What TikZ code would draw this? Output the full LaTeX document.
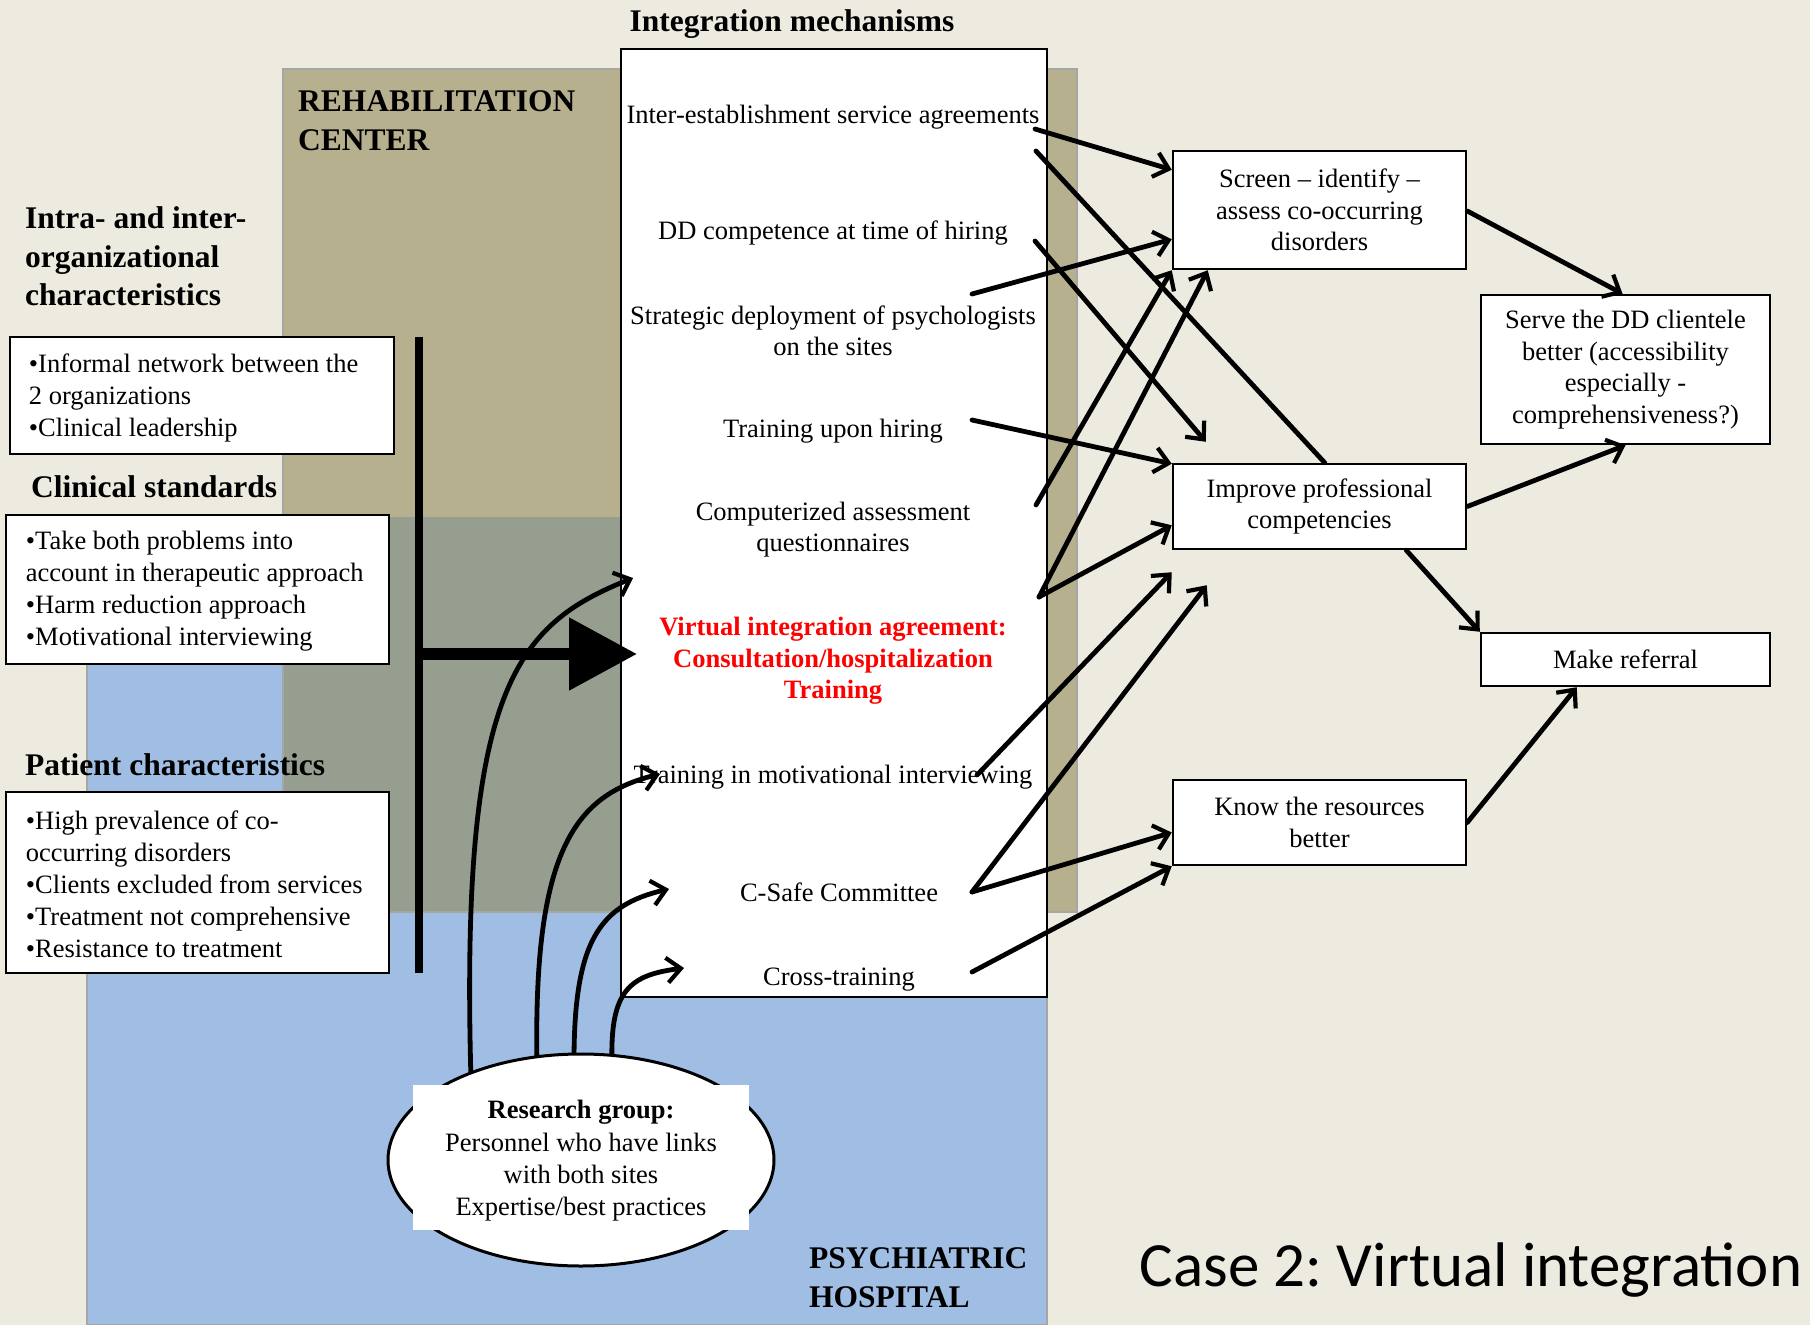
\documentclass[tikz,border=0pt]{standalone}
\usepackage{fontspec}
\setmainfont{Liberation Serif}
\newfontfamily\casefont{Carlito}
\frenchspacing
\usetikzlibrary{arrows.meta,calc,shapes.geometric}
\definecolor{bgbeige}{RGB}{237,234,224}
\definecolor{rehabtan}{RGB}{182,176,142}
\definecolor{overlapgr}{RGB}{149,158,143}
\definecolor{hospblue}{RGB}{160,190,228}
\definecolor{vired}{RGB}{255,0,0}
\tikzset{
  body/.style={font=\fontsize{26.5}{31.5}\selectfont, align=center, inner sep=0pt},
  heading/.style={font=\bfseries\fontsize{31.5}{38.5}\selectfont, align=left, inner sep=0pt, anchor=west},
  lbox/.style={draw=black, line width=2.5pt, fill=white, inner sep=0pt},
  ltext/.style={font=\fontsize{26.5}{32}\selectfont, align=left, inner sep=0pt, anchor=west},
  rbox/.style={draw=black, line width=2.5pt, fill=white, align=center, inner sep=0pt, font=\fontsize{26.5}{31.5}\selectfont},
  conn/.style={line width=4.8pt, line cap=round, -{Straight Barb[length=14pt,width=25pt,line width=4.2pt]}},
  connline/.style={line width=4.8pt, line cap=round},
  region/.style={draw=black!35, line width=1.2pt}
}
\begin{document}
\begin{tikzpicture}[x=1pt,y=-1pt]
\useasboundingbox (0,0) rectangle (1810,1325);
\fill[bgbeige] (0,0) rectangle (1810,1325);
% regions
\fill[hospblue, region] (87,517) rectangle (1047,1325);
\fill[rehabtan, region] (283,69) rectangle (1077,912);
\fill[overlapgr] (284,517) rectangle (1047,911);
\draw[black!35, line width=1.2pt] (1047,517) -- (1047,1325);

% mechanisms box
\node[draw=black, line width=2pt, fill=white, minimum width=426pt, minimum height=948pt, inner sep=0pt] (mech) at (834,523) {};
\node[heading, anchor=center] (hmech) at (792,24) {Integration mechanisms};

\node[body] (i1) at (833,117) {Inter-establishment service agreements};
\node[body] (i2) at (833,233) {DD competence at time of hiring};
\node[body] (i3) at (833,331) {Strategic deployment of psychologists\\on the sites};
\node[body] (i4) at (833,431) {Training upon hiring};
\node[body] (i5) at (833,529.5) {Computerized assessment\\questionnaires};
\node[body, text=vired, font=\bfseries\fontsize{26.5}{31.5}\selectfont] (i6) at (833,661) {Virtual integration agreement:\\Consultation/hospitalization\\Training};
\node[body] (i7) at (833,777) {Training in motivational interviewing};
\node[body] (i8) at (839,892) {C-Safe Committee};
\node[body] (i9) at (839,980) {Cross-training};

% headings
\node[heading] (hintra) at (25,256.5) {Intra- and inter-\\organizational\\characteristics};
\node[heading] (hclin) at (31,487) {Clinical standards};
\node[heading] (hpat) at (25,765) {Patient characteristics};
\node[heading] (hrehab) at (298,120.5) {REHABILITATION\\CENTER};
\node[heading] (hpsych) at (809,1277.5) {PSYCHIATRIC\\HOSPITAL};

% left boxes
\node[lbox, minimum width=384pt, minimum height=117pt] (b1) at (202,395.5) {};
\node[ltext] (t1) at ($(b1.west)+(20,2)$) {•Informal network between the\\2 organizations\\•Clinical leadership};
\node[lbox, minimum width=383pt, minimum height=149pt] (b2) at (197.5,589.5) {};
\node[ltext] (t2) at ($(b2.west)+(21,2)$) {•Take both problems into\\account in therapeutic approach\\•Harm reduction approach\\•Motivational interviewing};
\node[lbox, minimum width=383pt, minimum height=181pt] (b3) at (197.5,882.5) {};
\node[ltext] (t3) at ($(b3.west)+(21,2)$) {•High prevalence of co-\\occurring disorders\\•Clients excluded from services\\•Treatment not comprehensive\\•Resistance to treatment};

% vertical bar and thick arrow
\coordinate (vtop) at (419,337);
\coordinate (vbot) at (419,973);
\draw[line width=8pt] (vtop) -- (vbot);
\coordinate (hs) at (415,654);
\coordinate (he) at (637,654);
\draw[line width=12pt, -{Triangle[length=68pt,width=70pt]}] (hs) -- (he);

% curved arrows from research group
\coordinate (c1s) at (471,1080);
\coordinate (c1e) at (633,578);
\coordinate (c2s) at (537,1064);
\coordinate (c2e) at (660,774);
\coordinate (c3s) at (574,1061);
\coordinate (c3e) at (669,889);
\coordinate (c4s) at (612,1062);
\coordinate (c4e) at (684,968);
\draw[conn] (c1s) .. controls (460,690) and (515,625) .. (c1e);
\draw[conn] (c2s) .. controls (533,850) and (575,795) .. (c2e);
\draw[conn] (c3s) .. controls (574,940) and (600,905) .. (c3e);
\draw[conn] (c4s) .. controls (610,990) and (630,975) .. (c4e);

% research group
\node[ellipse, draw=black, line width=3pt, fill=white, minimum width=386pt, minimum height=212pt, inner sep=0pt] (rg) at (581,1160) {};
\node[fill=white, minimum width=336pt, minimum height=145pt, inner sep=0pt] (rgrect) at (581,1157.5) {};
\node[body, font=\fontsize{26.5}{32.3}\selectfont] (rgtext) at (581,1161) {\textbf{Research group:}\\Personnel who have links\\with both sites\\Expertise/best practices};

% right boxes
\node[rbox, minimum width=293pt, minimum height=118pt] (screen) at (1319.5,210) {Screen -- identify --\\assess co-occurring\\disorders};
\node[rbox, minimum width=289pt, minimum height=149pt] (serve) at (1625.5,369.5) {Serve the DD clientele\\better (accessibility\\especially -\\comprehensiveness?)};
\node[rbox, minimum width=293pt, minimum height=85pt] (improve) at (1319.5,506.5) {Improve professional\\competencies};
\node[rbox, minimum width=289pt, minimum height=53pt] (referral) at (1625.5,659.5) {Make referral};
\node[rbox, minimum width=293pt, minimum height=85pt] (know) at (1319.5,822.5) {Know the resources\\better};

% start points of connectors
\coordinate (sa) at (1035,129);
\coordinate (sb) at (1036,151);
\coordinate (sc) at (1035,241);
\coordinate (sd) at (972,294);
\coordinate (se) at (972,420);
\coordinate (sf) at (1036,505);
\coordinate (sg) at (1039,597);
\coordinate (sh) at (977,775);
\coordinate (si) at (972,892);
\coordinate (sj) at (972,972);

\draw[conn] (sa) -- ($(screen.north west)+(0,20)$);
\draw[connline] (sb) -- ($(improve.north west)+(153,0)$);
\draw[conn] (sc) -- ($(improve.north west)+(34,-21)$);
\draw[conn] (sd) -- ($(screen.south west)+(0,-31)$);
\draw[conn] (se) -- ($(improve.north west)+(0,1)$);
\draw[conn] (sf) -- (screen.south west);
\draw[conn] (sg) -- ($(screen.south west)+(36,0)$);
\draw[conn] (sg) -- ($(improve.south west)+(0,-25)$);
\draw[conn] (sh) -- ($(improve.south west)+(0,22)$);
\draw[conn] (si) -- ($(improve.south west)+(35,35)$);
\draw[conn] (si) -- ($(know.west)+(0,10)$);
\draw[conn] (sj) -- (know.south west);

\draw[conn] ($(screen.east)+(0,1)$) -- ($(serve.north)+(-3,0)$);
\draw[conn] (improve.east) -- (serve.south);
\draw[conn] ($(improve.south east)+(-61,0)$) -- (referral.north west);
\draw[conn] (know.east) -- ($(referral.south west)+(97,0)$);

% caption
\node[font=\casefont\fontsize{63}{70}\selectfont, inner sep=0pt] (caption) at (1471,1270) {Case 2: Virtual integration};
\end{tikzpicture}
\end{document}
